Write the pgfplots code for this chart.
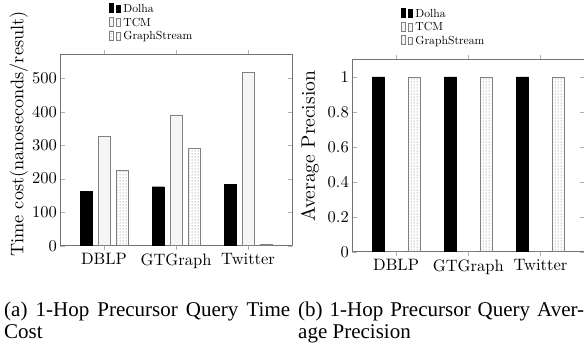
\documentclass[border=0pt]{standalone}
\usepackage{pgfplots}
\pgfplotsset{compat=1.18}
\usepackage{fontspec}
\setmainfont{lmroman10-regular.otf}
\newfontfamily\capfont{Liberation Serif}
\usetikzlibrary{patterns}
\pgfplotsset{
  mybars/.style={
    scale only axis, ybar=6pt, bar width=12pt,
    xmin=-0.607, xmax=2.607, ymin=0,
    xtick={0,1,2}, xticklabels={DBLP,GTGraph,Twitter},
    /pgf/number format/assume math mode=true,
    axis line style={black!55}, major tick style={black!30},
    tick label style={font=\fontsize{16.5}{18}\selectfont},
    legend style={draw=none, fill=none, inner sep=0pt,
      font=\fontsize{11.7}{13}\selectfont,
      nodes={inner sep=1pt, text height=8pt, text depth=2pt},
      row sep=1.5pt, cells={anchor=west}},
  },
  myleg/.style={legend image code/.code={
      \draw[##1] (0pt,-3pt) rectangle (4pt,6pt);
      \draw[##1] (6.5pt,-3pt) rectangle (11pt,4.5pt);
      \path (12.8pt,0pt);}},
  dolha/.style={fill=black, draw=black, myleg},
  tcm/.style={fill=black!4, draw=black!50, myleg},
  gs/.style={pattern=dots, pattern color=black!60, draw=black!50, myleg},
}
\begin{document}
\begin{tikzpicture}
\path[use as bounding box] (0,0) rectangle (584pt,343pt);
\begin{axis}[mybars, at={(60.3pt,97.3pt)}, anchor=south west,
  width=231.5pt, height=191.4pt, ymax=571, ytick={0,100,200,300,400,500},
  ylabel={Time cost(nanoseconds/result)},
  ylabel style={font=\fontsize{18.2}{20}\selectfont, at={(axis description cs:-0.160,-0.075)}, anchor=base west},
  legend style={at={(axis description cs:0.21,1.268)}, anchor=north west}]
\addplot[dolha] coordinates {(0,163) (1,176) (2,183)};
\addplot[tcm] coordinates {(0,326) (1,389) (2,519)};
\addplot[gs] coordinates {(0,225) (1,290) (2,4)};
\legend{Dolha,TCM,GraphStream}
\end{axis}
\begin{axis}[mybars, at={(352.3pt,91.3pt)}, anchor=south west,
  width=232pt, height=192.4pt, ymax=1.1, ytick={0,0.2,0.4,0.6,0.8,1},
  ylabel={Average Precision},
  ylabel style={font=\fontsize{19.5}{21}\selectfont, at={(axis description cs:-0.161,0.139)}, anchor=base west},
  legend style={at={(axis description cs:0.21,1.268)}, anchor=north west}]
\addplot[dolha] coordinates {(0,1) (1,1) (2,1)};
\addplot[tcm] coordinates {(0,0) (1,0) (2,0)};
\addplot[gs] coordinates {(0,1) (1,1) (2,1)};
\legend{Dolha,TCM,GraphStream}
\end{axis}
\node[anchor=north west, inner sep=0pt, text width=286pt, align=justify,
  font=\capfont\fontsize{21}{22}\selectfont] at (4pt,41pt)
  {(a) 1-Hop Precursor Query Time\linebreak Cost};
\node[anchor=north west, inner sep=0pt, text width=286pt, align=justify,
  font=\capfont\fontsize{21}{22}\selectfont] at (298pt,41pt)
  {(b) 1-Hop Precursor Query Aver-\linebreak age Precision};
\end{tikzpicture}
\end{document}
